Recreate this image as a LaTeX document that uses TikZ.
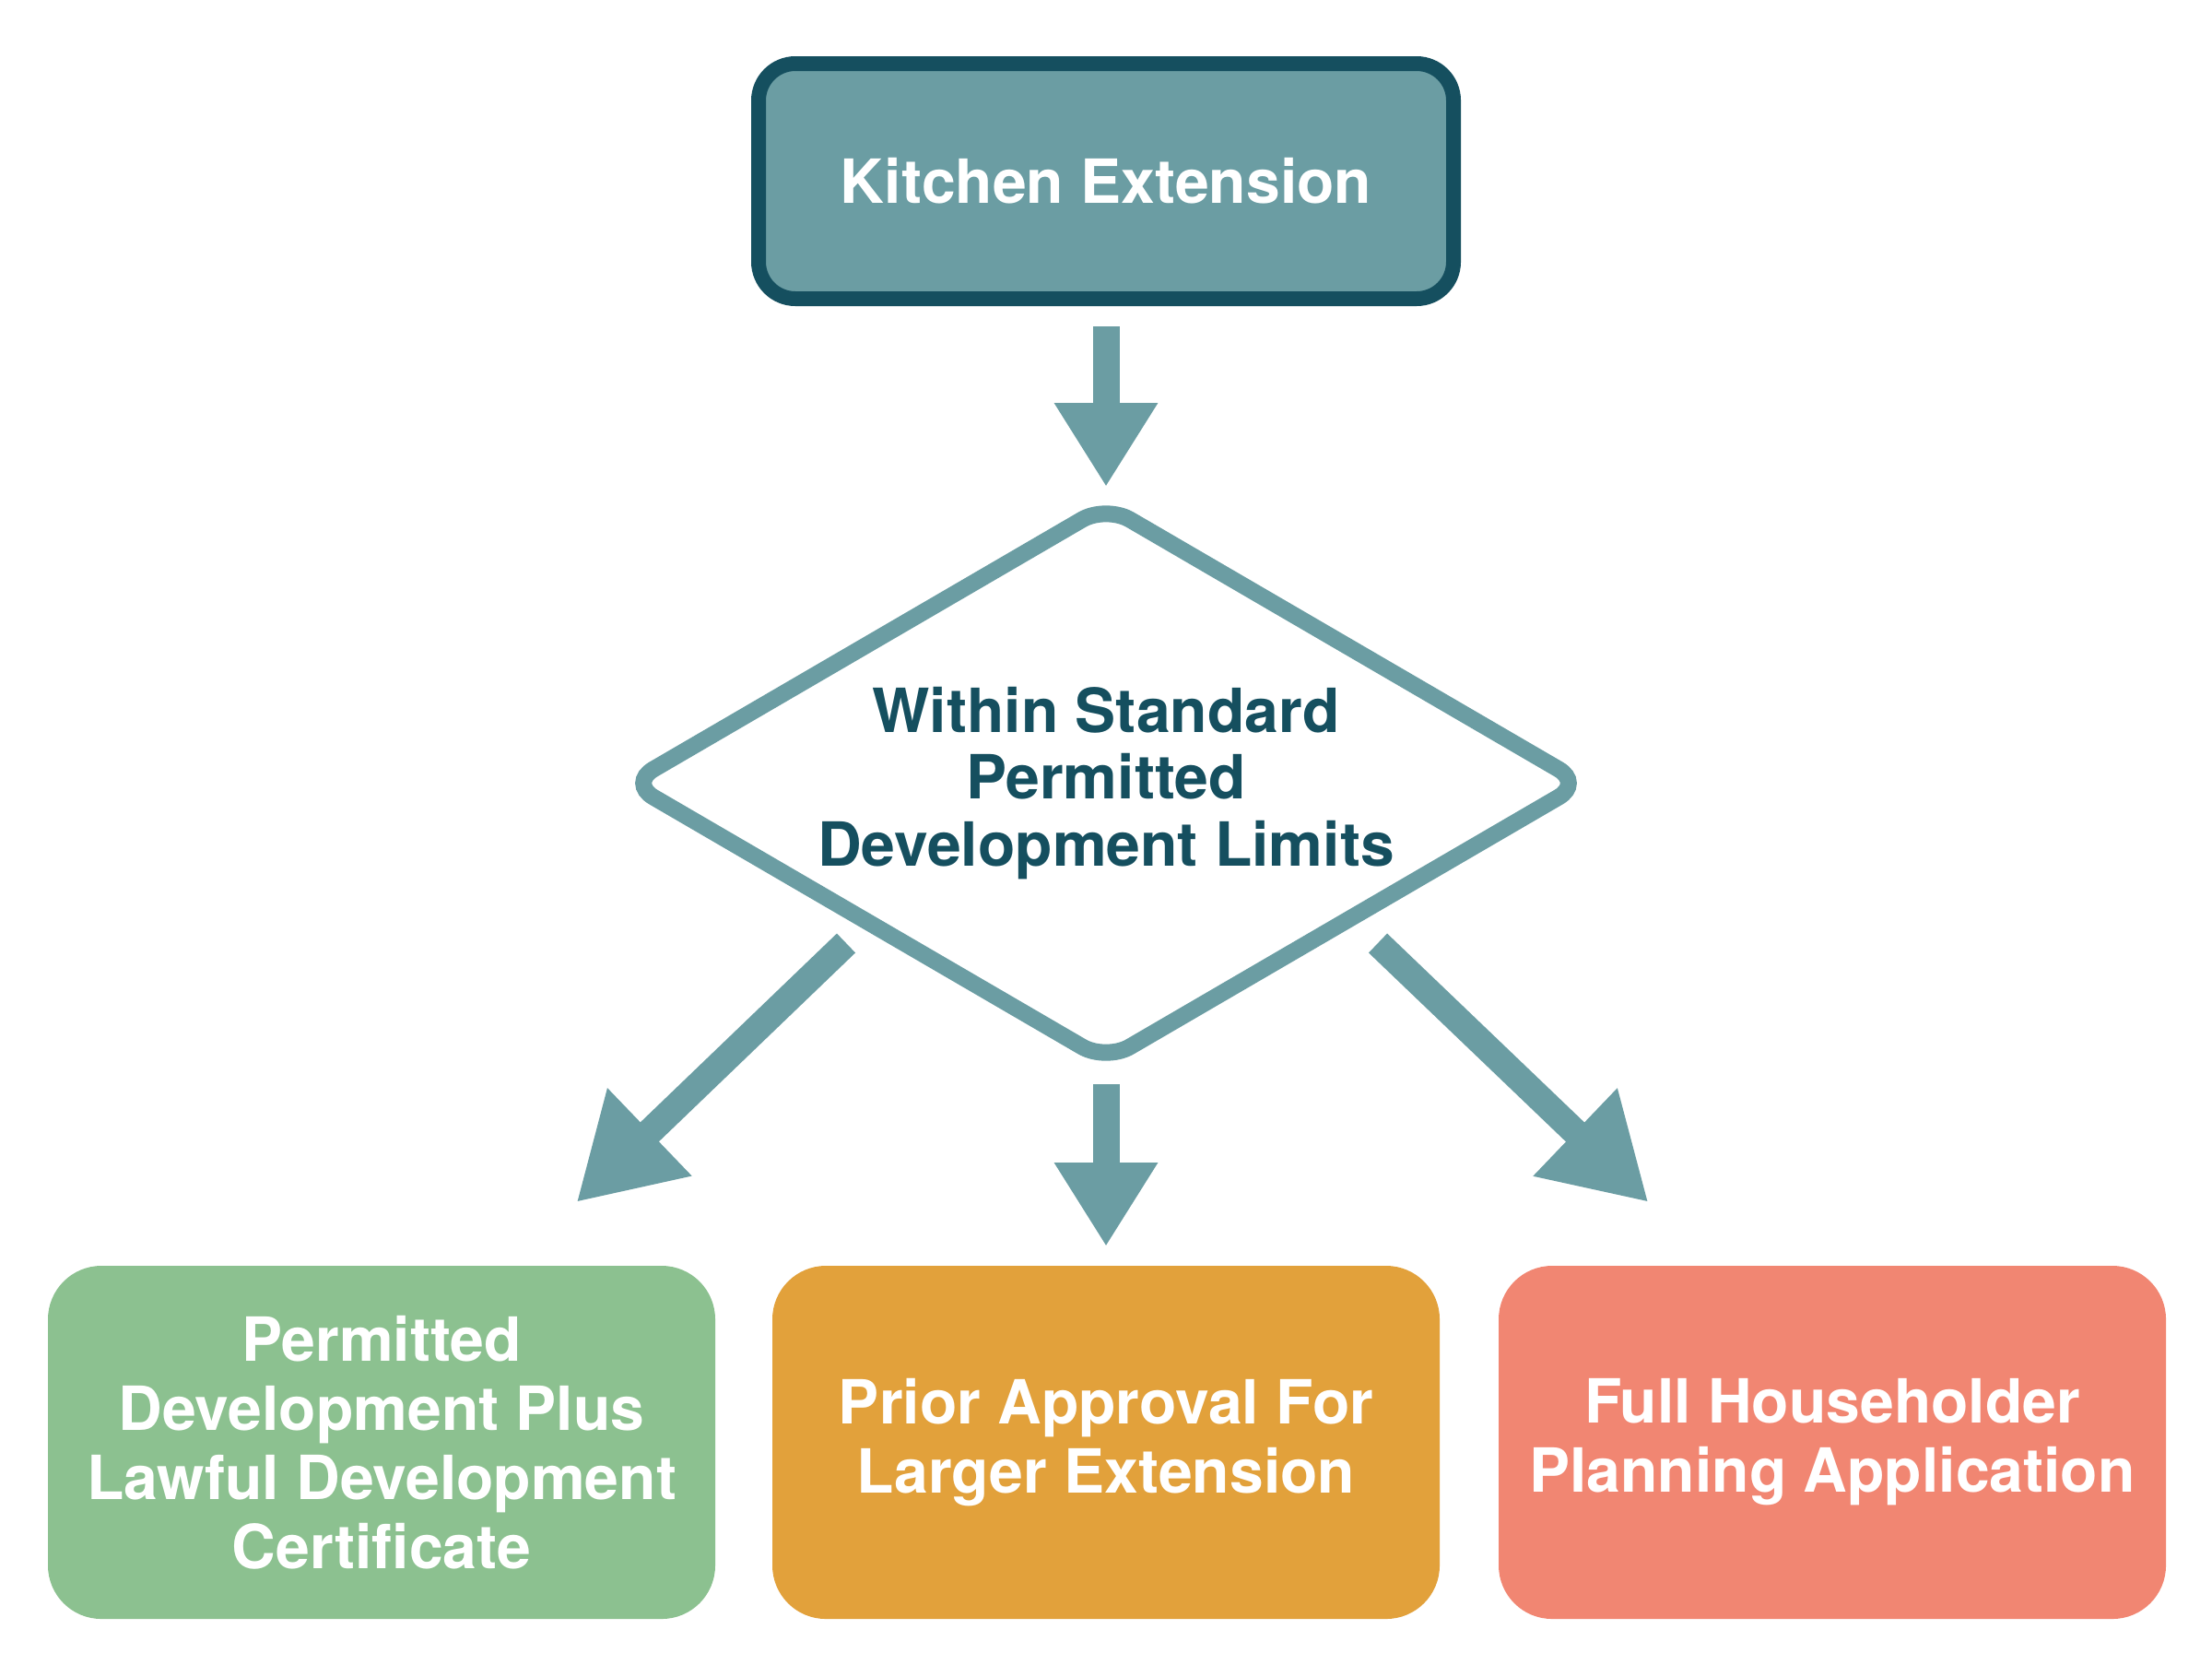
\documentclass[tikz,border=0pt]{standalone}
\usepackage{fontspec}
\setmainfont{TeX Gyre Heros}
\usepackage{tikz}
\usetikzlibrary{arrows.meta,positioning,shapes.geometric}
\definecolor{tealfill}{HTML}{6B9DA3}
\definecolor{tealdark}{HTML}{154F5F}
\definecolor{greenbox}{HTML}{8CC190}
\definecolor{orangebox}{HTML}{E2A13B}
\definecolor{redbox}{HTML}{F18672}
\begin{document}
\begin{tikzpicture}[
  startbox/.style={draw=tealdark, line width=0.16cm, fill=tealfill, rounded corners=0.4cm, minimum width=7.54cm, minimum height=2.55cm, outer sep=0pt, text=white, font=\fontsize{18.8}{21}\selectfont\bfseries},
  decision/.style={diamond, draw=tealfill, line width=0.18cm, fill=white, rounded corners=0.3cm, aspect=1.718, minimum width=10.34cm, minimum height=6.02cm, inner sep=0pt, outer sep=0pt, align=center, text=tealdark, font=\fontsize{18.8}{20.6}\selectfont\bfseries},
  result/.style={rounded corners=0.58cm, minimum width=7.24cm, minimum height=3.83cm, outer sep=0pt, align=center, text=white, font=\fontsize{18.8}{21.3}\selectfont\bfseries},
  arr/.style={draw=tealfill, line width=0.29cm, -{Triangle[width=1.06cm, length=0.91cm]}},
  diagarr/.style={arr, -{Triangle[width=1.24cm, length=1.10cm]}}
]
\fill[white] (0,0) rectangle (24,-17.92);
\useasboundingbox (0,0) rectangle (24,-17.92);
\node[decision] (limits) at (12,-8.495) {Within Standard\\Permitted\\Development Limits};
\node[startbox, above=2.245cm of limits] (kitchen) {Kitchen Extension};
\node[result, fill=orangebox, below=2.225cm of limits] (prior) {Prior Approval For\\Larger Extension};
\node[result, fill=greenbox, left=0.62cm of prior] (lawful) {Permitted\\Development Plus\\Lawful Development\\Certificate};
\node[result, fill=redbox, right=0.64cm of prior] (householder) {Full Householder\\Planning Application};
\draw[arr, shorten <=0.30cm, shorten >=0.205cm] (kitchen.south) -- (limits.north);
\draw[arr, shorten <=0.255cm, shorten >=0.21cm] (limits.south) -- (prior.north);
\draw[diagarr] ([shift={(-2.82,-1.735)}]limits.center) -- ([shift={(2.115,0.69)}]lawful.north);
\draw[diagarr] ([shift={(2.95,-1.735)}]limits.center) -- ([shift={(-1.995,0.69)}]householder.north);
\end{tikzpicture}
\end{document}
